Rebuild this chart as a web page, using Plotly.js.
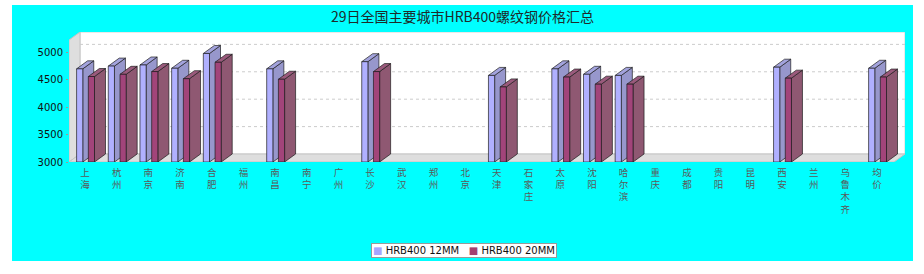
<!DOCTYPE html>
<html>
<head>
<meta charset="utf-8">
<script src="https://cdn.plot.ly/plotly-3.0.1.min.js"></script>
<style>
html,body{margin:0;padding:0;background:#ffffff;width:924px;height:274px;overflow:hidden;}
#chart{position:absolute;left:12px;top:5px;width:901px;height:256px;}
</style>
</head>
<body>
<div id="chart"></div>
<script>
// ---- data ----
const cities = ['上海','杭州','南京','济南','合肥','福州','南昌','南宁','广州','长沙','武汉','郑州','北京','天津','石家庄','太原','沈阳','哈尔滨','重庆','成都','贵阳','昆明','西安','兰州','乌鲁木齐','均价'];
const hrb12 = [4700,4750,4770,4710,4980,null,4700,null,null,4830,null,null,null,4580,null,4700,4600,4580,null,null,null,null,4730,null,null,4710];
const hrb20 = [4560,4600,4650,4520,4820,null,4510,null,null,4650,null,null,null,4370,null,4550,4420,4420,null,null,null,null,4530,null,null,4550];
const seriesNames = ['HRB400 12MM','HRB400 20MM'];
const yTicks = [3000,3500,4000,4500,5000];
const titleText = '29日全国主要城市HRB400螺纹钢价格汇总';

// ---- geometry (axis ranges and 3D depth) ----
const xL = -0.505, xR = 25.884;
const yB = 3000, yT = 5372;
const plotW = 836, plotH = 130;
const dx = 11 * (xR - xL) / plotW;   // 3D depth in category units
const dy = 8 * (yT - yB) / plotH;    // 3D depth in value units
const barW = 0.195;
const offsets = [-0.265, 0.105];

function faces(vals, off){
  const f={x:[],y:[]}, s={x:[],y:[]}, t={x:[],y:[]};
  vals.forEach((v,i)=>{
    if(v===null) return;
    const x0=i+off, x1=x0+barW;
    f.x.push(x0,x1,x1,x0,x0,null); f.y.push(yB,yB,v,v,yB,null);
    s.x.push(x1,x1+dx,x1+dx,x1,x1,null); s.y.push(yB,yB+dy,v+dy,v,yB,null);
    t.x.push(x0,x0+dx,x1+dx,x1,x0,null); t.y.push(v,v+dy,v+dy,v,v,null);
  });
  return {f,s,t};
}

const colors = [
  {front:'#B0B0FF', side:'#9797CC', top:'#A3A3DD', legend:'#A6A6FF'},
  {front:'#A2447A', side:'#8F5872', top:'#9A5A7C', legend:'#A3406F'}
];
const edge = {color:'rgba(25,25,25,0.85)', width:0.8};

const traces = [];
[hrb12, hrb20].forEach((vals,k)=>{
  const g = faces(vals, offsets[k]);
  [['s','side'],['t','top'],['f','front']].forEach(([key,c])=>{
    traces.push({type:'scatter', mode:'lines', x:g[key].x, y:g[key].y,
      name:seriesNames[k], fill:'toself', fillcolor:colors[k][c], line:edge,
      hoverinfo:'skip', showlegend:false, connectgaps:false});
  });
});

// walls, floor, grid
const shapes = [];
shapes.push({type:'rect', xref:'x', yref:'y', x0:xL+dx, x1:xR, y0:yB+dy, y1:yT,
  fillcolor:'#ffffff', line:{color:'#d4d4d4', width:1}, layer:'below'});
shapes.push({type:'path', xref:'x', yref:'y',
  path:`M${xL},${yB} L${xL+dx},${yB+dy} L${xL+dx},${yT} L${xL},${yT-dy} Z`,
  fillcolor:'#dedede', line:{color:'#c4c4c4', width:1}, layer:'below'});
shapes.push({type:'path', xref:'x', yref:'y',
  path:`M${xL},${yB} L${xR-dx},${yB} L${xR},${yB+dy} L${xL+dx},${yB+dy} Z`,
  fillcolor:'#dedede', line:{color:'#c4c4c4', width:1}, layer:'below'});
yTicks.slice(1).forEach(v=>{
  shapes.push({type:'line', xref:'x', yref:'y', x0:xL+dx, x1:xR, y0:v+dy, y1:v+dy,
    line:{color:'#cccccc', width:1, dash:'3px,3px'}, layer:'below'});
});

// legend box (compact, like the original)
const legendText = seriesNames.map((n,k)=>
  `<span style="color:${colors[k].legend}">■</span> ${n}`).join('&nbsp;&nbsp;&nbsp;');

const layout = {
  width:901, height:256,
  margin:{l:57, r:8, t:27, b:99},
  paper_bgcolor:'#00ffff',
  plot_bgcolor:'rgba(0,0,0,0)',
  showlegend:false,
  title:{text:titleText, x:0.5, xanchor:'center', y:0.953, yanchor:'middle', yref:'container',
    font:{family:'Noto Sans CJK SC, sans-serif', size:14, color:'#1e2a2a'}},
  xaxis:{range:[xL,xR], tickmode:'array', tickvals:cities.map((c,i)=>i),
    ticktext:cities.map(c=>c.split('').join('<br>')), automargin:false,
    showgrid:false, zeroline:false, showline:false, ticks:'', ticklabelstandoff:3,
    tickfont:{family:'Noto Sans CJK SC, sans-serif', size:9.5, color:'#5a5a5a'},
    fixedrange:true},
  yaxis:{range:[yB,yT], tickmode:'array', tickvals:yTicks, ticktext:yTicks.map(String),
    automargin:false,
    showgrid:false, zeroline:false, showline:false, ticks:'outside', ticklen:2, tickcolor:'#999999',
    ticklabelstandoff:1,
    tickfont:{family:'DejaVu Sans, sans-serif', size:10, color:'#111111'}, fixedrange:true},
  shapes:shapes,
  annotations:[{xref:'paper', yref:'paper', x:0.472, y:-0.68, xanchor:'center', yanchor:'middle',
    text:legendText, showarrow:false, bgcolor:'#ffffff', bordercolor:'#999999', borderwidth:1,
    borderpad:1, font:{family:'DejaVu Sans, sans-serif', size:10, color:'#111111'}}]
};

Plotly.newPlot('chart', traces, layout, {displayModeBar:false, staticPlot:true});
</script>
</body>
</html>
